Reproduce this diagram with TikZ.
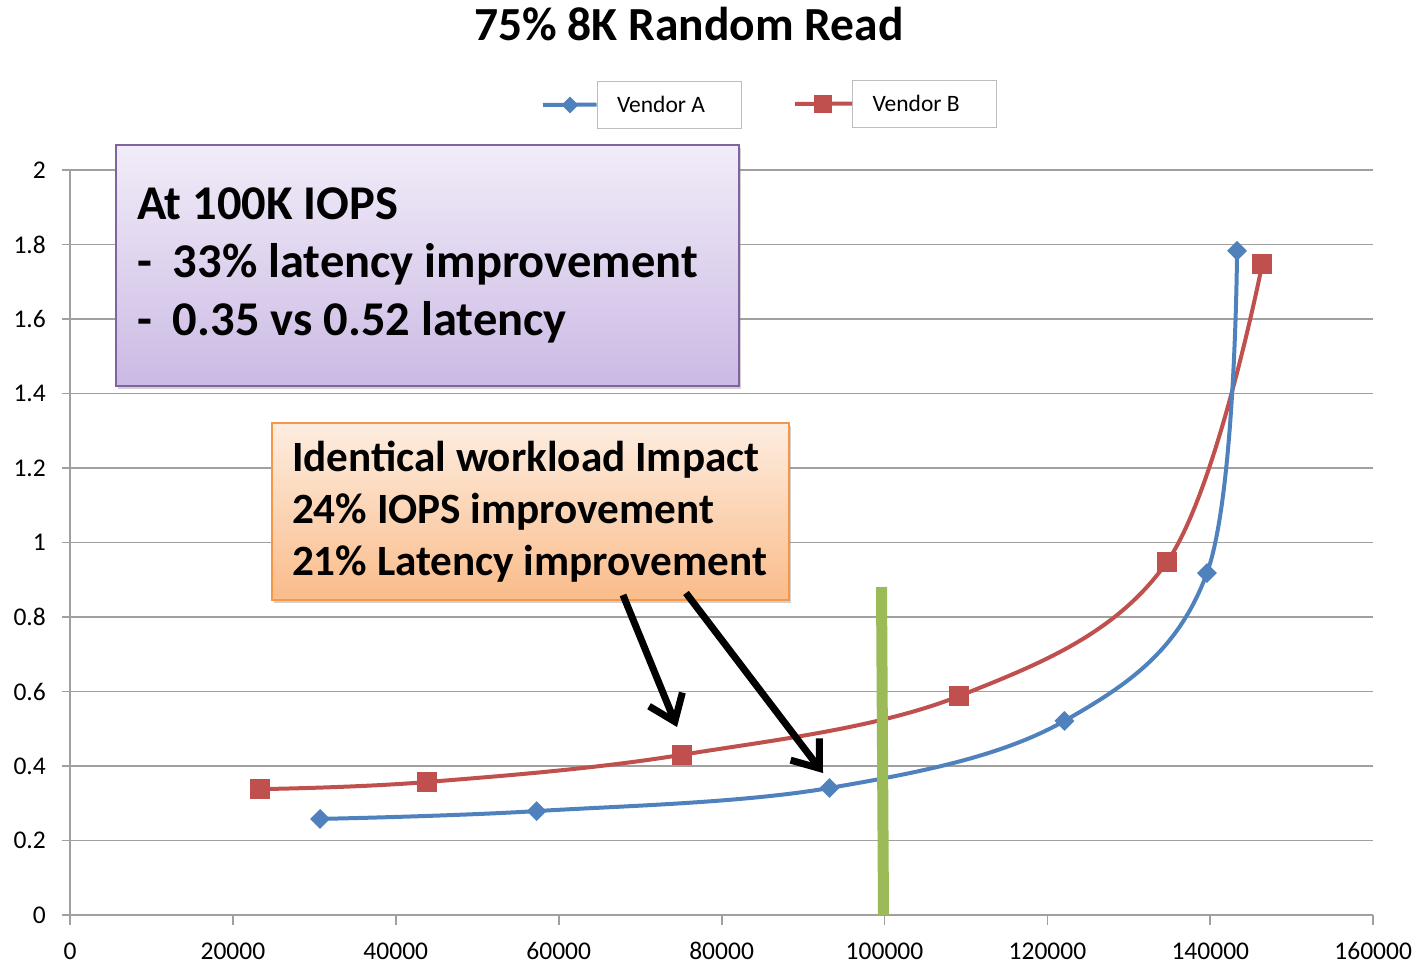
\documentclass[tikz,border=0pt]{standalone}
\usepackage{fontspec}
\setmainfont{Carlito}
\usetikzlibrary{arrows.meta,shapes.geometric,shadows}

\definecolor{venA}{RGB}{79,129,189}
\definecolor{venB}{RGB}{192,80,77}
\definecolor{gridc}{RGB}{160,160,160}
\definecolor{barg}{RGB}{155,187,89}
\definecolor{purpB}{RGB}{128,100,162}
\definecolor{purpT}{RGB}{241,236,248}
\definecolor{purpL}{RGB}{203,186,228}
\definecolor{orB}{RGB}{247,150,70}
\definecolor{orT}{RGB}{253,237,224}
\definecolor{orL}{RGB}{250,188,138}

\tikzset{
	gridline/.style={draw=gridc, line width=1.8pt},
	markA/.style={diamond, fill=venA, inner sep=0pt, minimum size=20pt},
	markB/.style={rectangle, fill=venB, inner sep=0pt, minimum size=20pt},
	ticklab/.style={inner sep=0pt, font=\fontsize{25.5}{28}\selectfont},
	legbox/.style={draw=gridc!70, line width=1pt, fill=white, minimum width=144pt, minimum height=47pt,
		inner xsep=20pt, text width=104pt, align=left, font=\fontsize{23.5}{27}\selectfont},
	notebox/.style={line width=1.5pt, drop shadow={shadow xshift=2pt, shadow yshift=-3pt, opacity=0.35},
		align=left, font=\bfseries},
	pointer/.style={line width=7pt, -{Straight Barb[length=24pt,width=36pt]}}
}

\begin{document}
\begin{tikzpicture}[x=1pt, y=-1pt]
			%%%%% START %%%%%
			
			\fill[white] (0,0) rectangle (1420,964);
			\useasboundingbox (0,0) rectangle (1420,964);
			
			\node[font=\bfseries\fontsize{47.5}{52}\selectfont, anchor=base] (title) at (689,40) {75\% 8K Random Read};
			
			% grid and axes
			\foreach \g in {1,...,10}
				\draw[gridline] (62,{915-74.5*\g}) -- (1373,{915-74.5*\g});
			\draw[gridline] (70,170) -- (70,915);
			\draw[gridline] (62,915) -- (1373,915);
			\foreach \v [count=\i from 0] in {0,0.2,0.4,0.6,0.8,1,1.2,1.4,1.6,1.8,2}
				\node[ticklab, anchor=east] (yl\i) at (46,{915-74.5*\i}) {\v};
			\foreach \v [count=\i from 0] in {0,20000,40000,60000,80000,100000,120000,140000,160000} {
				\draw[gridline] ({70+162.9*\i},915) -- ({70+162.9*\i},925);
				\node[ticklab] (xl\i) at ({70+162.9*\i},951) {\v};
			}
			
			% series
			\begin{scope}[shift={(70,915)}, x=8.144pt, y=372.5pt]
				\draw[venB, line width=4pt] plot[smooth, tension=0.6] coordinates
					{(23.3,0.338) (43.8,0.357) (75.1,0.430) (109.2,0.588) (134.7,0.948) (146.4,1.748)};
				\draw[venA, line width=4pt] plot[smooth, tension=0.6] coordinates
					{(30.7,0.258) (57.3,0.279) (93.25,0.341) (122.1,0.521) (139.6,0.918) (143.3,1.783)};
				\foreach \px/\py [count=\i] in {23.3/0.338, 43.8/0.357, 75.1/0.430, 109.2/0.588, 134.7/0.948, 146.4/1.748}
					\node[markB] (b\i) at (\px,\py) {};
				\foreach \px/\py [count=\i] in {30.7/0.258, 57.3/0.279, 93.25/0.341, 122.1/0.521, 139.6/0.918, 143.3/1.783}
					\node[markA] (a\i) at (\px,\py) {};
			\end{scope}
			
			\draw[barg, line width=11pt] (881.5,587) -- (883.5,915);
			
			% legend
			\coordinate (lA) at (543,105);
			\coordinate (lB) at (795,104);
			\node[legbox] (legA) at (669,104.5) {\spaceskip=0pt Vendor A};
			\node[legbox] (legB) at (924.5,103.5) {\spaceskip=0pt Vendor B};
			\draw[venA, line width=4pt] (lA) -- (legA.west);
			\draw[venB, line width=4pt] (lB) -- (legB.west);
			\node[markA, minimum size=17pt] (mA) at (570,105) {};
			\node[markB, minimum size=18pt] (mB) at (823,104) {};
			
			% call-outs
			\node[notebox, draw=purpB, top color=purpT, bottom color=purpL, minimum width=623pt, minimum height=241pt,
				inner xsep=21pt, text width=581pt, font=\bfseries\fontsize{48.5}{58}\selectfont] (at100) at (427.5,265.5)
				{\spaceskip=0pt At 100K IOPS\\ \makebox[36pt][l]{-}33\% latency improvement\\ \makebox[36pt][l]{-}0.35 vs 0.52 latency};
			
			\node[notebox, draw=orB, top color=orT, bottom color=orL, minimum width=517pt, minimum height=177pt,
				inner xsep=20pt, text width=477pt, font=\bfseries\fontsize{43.2}{52}\selectfont] (impact) at (530.5,511.5)
				{\spaceskip=0pt Identical workload Impact\\ 24\% IOPS improvement\\ 21\% Latency improvement};
			
			\coordinate (t1) at (623,595);
			\coordinate (h1) at (677,727);
			\coordinate (t2) at (686,593);
			\coordinate (h2) at (823,773);
			\draw[pointer] (t1) -- (h1);
			\draw[pointer] (t2) -- (h2);
			
			%%%%% END %%%%%
\end{tikzpicture}
\end{document}
